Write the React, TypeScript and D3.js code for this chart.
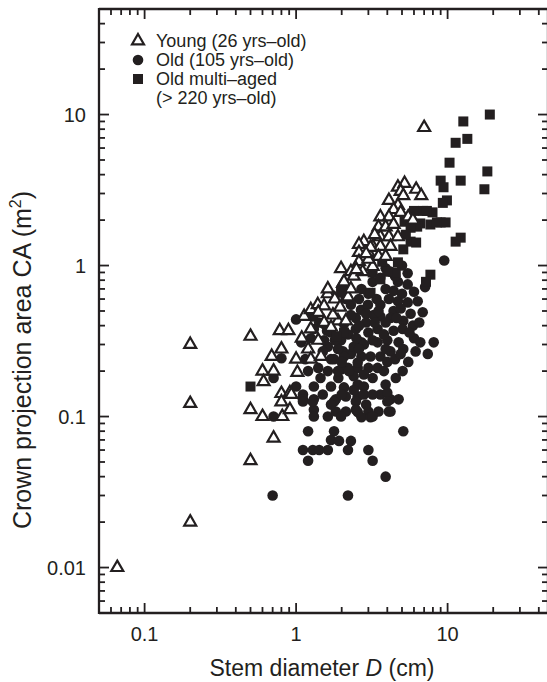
import React from "react";
import * as d3 from "d3";

const young: [number, number][] = [
  [0.066, 0.01], [0.2, 0.3], [0.2, 0.122], [0.2, 0.02], [0.5, 0.34], [0.5, 0.111], [0.5, 0.051],
  [0.78, 0.37], [0.89, 0.37], [0.8, 0.28], [0.69, 0.25], [0.6, 0.2], [0.71, 0.2], [0.61, 0.17],
  [1.02, 0.196], [0.8, 0.142], [0.91, 0.144], [0.6, 0.1], [0.81, 0.1], [0.91, 0.111], [1.0, 0.24],
  [1.09, 0.33], [1.13, 0.46], [1.25, 0.51], [1.39, 0.55], [0.71, 0.072], [1.62, 0.65], [2.04, 0.76],
  [1.53, 0.54], [1.89, 0.43], [2.13, 0.43], [1.25, 0.38], [1.2, 0.28], [1.4, 0.32], [1.25, 0.24],
  [1.46, 0.25], [1.53, 0.42], [1.7, 0.39], [0.93, 0.14], [0.8, 0.125],
  [4.7, 3.3], [5.2, 3.5], [4.9, 3.1], [5.1, 2.9], [6.2, 3.2], [6.7, 2.9], [4.1, 2.7], [4.7, 2.5],
  [4.4, 2.35], [4.9, 2.25], [3.6, 2.1], [4.1, 2.1], [5.5, 2.1], [3.5, 1.8], [3.9, 1.8], [4.4, 1.87],
  [3.6, 1.55], [4.1, 1.55], [4.7, 1.55], [2.8, 1.44], [2.6, 1.38], [3.2, 1.34], [3.6, 1.34],
  [4.2, 1.34], [2.6, 1.22], [3.0, 1.22], [3.5, 1.15], [1.98, 0.955], [2.6, 1.06], [2.3, 0.91],
  [2.07, 0.78], [2.4, 0.85], [2.75, 0.91], [3.2, 0.985], [3.9, 1.15], [1.62, 0.7], [3.1, 1.32],
  [3.0, 1.1], [2.5, 0.94], [7.0, 8.2], [5.9, 2.0], [3.3, 1.6], [2.9, 1.2],
  [1.4, 0.49], [1.8, 0.6], [1.75, 0.47], [2.2, 0.62], [2.3, 0.7], [1.95, 0.53],
];

const old: [number, number][] = [
  [9.5, 1.08], [5.45, 0.89], [4.2, 0.91], [4.7, 0.78], [3.6, 0.83], [3.2, 0.78], [6.0, 0.67],
  [7.1, 0.72], [5.45, 0.75], [4.7, 0.58], [5.45, 0.57], [6.35, 0.58], [6.85, 0.49], [4.4, 0.5],
  [5.1, 0.43], [5.05, 0.38], [4.2, 0.45], [3.6, 0.46], [3.25, 0.47], [2.9, 0.42], [3.0, 0.36],
  [3.45, 0.38], [2.7, 0.31], [3.45, 0.31], [4.0, 0.32], [4.75, 0.31], [6.0, 0.33], [6.6, 0.31],
  [8.1, 0.31], [6.15, 0.27], [7.4, 0.26], [5.1, 0.28], [4.2, 0.27], [3.6, 0.25], [3.1, 0.25],
  [2.7, 0.25], [2.3, 0.26], [2.04, 0.27], [2.2, 0.21], [2.55, 0.21], [3.0, 0.21], [3.45, 0.21],
  [4.0, 0.23], [1.98, 0.205], [1.7, 0.24], [1.9, 0.18], [2.4, 0.185], [2.8, 0.19], [4.55, 0.18],
  [5.05, 0.2], [2.55, 0.163], [2.8, 0.158], [3.9, 0.163], [1.31, 0.158], [1.7, 0.158], [1.0, 0.158],
  [1.11, 0.14], [1.11, 0.13], [1.31, 0.13], [1.83, 0.13], [2.13, 0.136], [2.55, 0.136], [2.8, 0.14],
  [3.6, 0.14], [4.2, 0.13], [4.75, 0.13], [4.0, 0.144], [1.31, 0.111], [1.31, 0.1], [1.62, 0.1],
  [1.83, 0.108], [2.13, 0.108], [2.55, 0.107], [3.0, 0.108], [3.5, 0.108], [4.1, 0.108], [2.7, 0.099],
  [3.1, 0.099], [1.98, 0.1], [1.2, 0.08], [1.78, 0.08], [5.1, 0.08], [1.7, 0.07], [1.92, 0.069],
  [2.3, 0.069], [1.11, 0.06], [1.29, 0.06], [1.42, 0.06], [1.62, 0.06], [2.2, 0.06], [3.0, 0.06],
  [1.2, 0.051], [3.2, 0.051], [3.9, 0.04], [2.2, 0.03], [0.7, 0.03], [1.11, 0.126], [1.29, 0.126],
  [1.78, 0.126], [2.48, 0.126], [4.0, 0.126], [2.48, 0.111], [4.2, 0.108], [3.2, 0.1],
  [1.0, 0.44], [0.71, 0.18], [0.8, 0.243], [0.71, 0.1], [1.29, 0.46], [1.42, 0.42], [1.31, 0.38],
  [1.62, 0.29], [1.78, 0.24], [2.07, 0.25], [1.4, 0.21], [1.62, 0.2], [1.89, 0.2], [2.23, 0.2],
  [2.07, 0.156], [2.55, 0.228], [2.4, 0.29], [1.98, 0.32], [1.7, 0.36], [1.31, 0.47], [1.53, 0.41],
  [1.53, 0.32], [1.25, 0.33], [1.08, 0.31], [1.5, 0.27], [1.89, 0.28],
  [2.68, 0.51], [2.98, 0.55], [2.48, 0.45], [2.13, 0.6], [2.3, 0.47], [2.07, 0.41], [2.48, 0.38],
  [2.6, 0.6],
  [2.2, 0.35], [2.5, 0.33], [2.8, 0.3], [3.2, 0.32], [3.8, 0.35], [4.4, 0.37], [3.3, 0.42],
  [3.9, 0.42], [4.6, 0.45], [2.6, 0.4], [3.6, 0.55], [4.1, 0.6], [3.9, 0.7], [4.4, 0.68], [5.0, 0.65],
  [3.4, 0.6], [3.0, 0.65], [2.7, 0.7], [4.9, 0.52], [5.7, 0.48], [5.9, 0.4], [3.9, 0.28], [4.5, 0.24],
  [5.5, 0.23], [3.2, 0.18], [3.8, 0.2], [2.4, 0.15], [3.2, 0.14], [1.5, 0.14], [1.7, 0.12], [2.0, 0.14],
  [2.9, 0.12], [1.45, 0.18], [1.2, 0.2], [1.15, 0.24], [2.0, 0.23], [2.6, 0.28], [1.8, 0.32],
  [1.6, 0.37], [2.3, 0.55], [2.9, 0.48], [3.5, 0.5], [4.5, 0.85], [5.0, 1.0], [3.9, 0.96], [6.5, 0.42],
  [5.6, 0.36], [4.9, 0.26],
];

const multiAged: [number, number][] = [
  [19, 10], [12.7, 9.0], [13.5, 6.9], [11.3, 6.5], [10.3, 4.8], [9.0, 3.65], [9.4, 3.3], [12.2, 3.65],
  [18.3, 4.2], [17.5, 3.2], [9.9, 2.7], [9.3, 2.6], [6.9, 2.3], [7.95, 2.25], [6.6, 1.9], [7.7, 1.87],
  [9.0, 1.93], [9.7, 1.93], [6.3, 1.81], [5.7, 1.44], [6.2, 1.42], [12.2, 1.53], [11.3, 1.44],
  [5.1, 1.28], [4.7, 1.05], [7.7, 0.87], [7.2, 0.78], [3.2, 0.9], [3.7, 1.06], [0.5, 0.158],
  [4.55, 0.9], [4.0, 0.91], [3.6, 0.81], [3.1, 0.66], [1.98, 0.66], [2.07, 0.36], [1.86, 0.34],
  [5.2, 1.95], [5.7, 1.78], [6.0, 2.3], [7.3, 2.3], [8.5, 1.93], [5.3, 1.6],
];

const xTickLabels = [0.1, 1, 10];
const yTickLabels = [0.01, 0.1, 1, 10];
const legendItems = ["Young (26 yrs–old)", "Old (105 yrs–old)", "Old multi–aged", "(> 220 yrs–old)"];

const W = 547;
const H = 682;
const INK = "#231f20";
const FONT = "'Liberation Sans', Arial, Helvetica, sans-serif";

function logTicks(lo: number, hi: number) {
  const out: { v: number; major: boolean }[] = [];
  for (let e = Math.floor(Math.log10(lo)); e <= Math.ceil(Math.log10(hi)); e++) {
    for (let k = 1; k <= 9; k++) {
      const v = k * Math.pow(10, e);
      if (v >= lo * 0.999 && v <= hi * 1.001) out.push({ v, major: k === 1 });
    }
  }
  return out;
}

function tri(cx: number, cy: number, s: number) {
  const h = s * 0.866;
  return `M${cx},${cy - (2 * h) / 3}L${cx + s / 2},${cy + h / 3}L${cx - s / 2},${cy + h / 3}Z`;
}

export default function App() {
  const x = d3.scaleLog().domain([0.05, 46]).range([99, 548]);
  const y = d3.scaleLog().domain([0.005, 50]).range([613, 9]);
  const xt = logTicks(0.05, 46);
  const yt = logTicks(0.005, 50);
  const L = 99, R = 548, T = 9, B = 613;

  return (
    <svg width={W} height={H} style={{ position: "absolute", left: 0, top: 0, background: "#fff" }}>
      <rect x={0} y={0} width={W} height={H} fill="#fff" />
      <g stroke={INK} strokeWidth={2.3} fill="none">
        <line x1={L} y1={T} x2={R} y2={T} />
        <line x1={L} y1={B} x2={R} y2={B} />
        <line x1={L} y1={T - 1} x2={L} y2={B + 1} />
        <line x1={R} y1={T} x2={R} y2={B} />
      </g>
      <g stroke={INK} strokeWidth={1.8}>
        {xt.map((t, i) => {
          const px = x(t.v);
          const len = t.major ? 10 : 6;
          return (
            <g key={"x" + i}>
              <line x1={px} y1={B} x2={px} y2={B - len} />
              <line x1={px} y1={T} x2={px} y2={T + len} />
            </g>
          );
        })}
        {yt.map((t, i) => {
          const py = y(t.v);
          const len = t.major ? 10 : 6;
          return (
            <g key={"y" + i}>
              <line x1={L} y1={py} x2={L + len} y2={py} />
              <line x1={R} y1={py} x2={R - len} y2={py} />
            </g>
          );
        })}
      </g>
      <g fill={INK} fontFamily={FONT} fontSize={20}>
        {xTickLabels.map((v) => (
          <text key={"xl" + v} x={x(v)} y={641} textAnchor="middle">
            {String(v)}
          </text>
        ))}
        {yTickLabels.map((v) => (
          <text key={"yl" + v} x={86} y={y(v) + 7} textAnchor="end">
            {String(v)}
          </text>
        ))}
      </g>
      <text x={322} y={676} textAnchor="middle" fontFamily={FONT} fontSize={23} fill={INK}>
        Stem diameter <tspan fontStyle="italic">D</tspan> (cm)
      </text>
      <text
        transform={`translate(31,360) rotate(-90)`}
        textAnchor="middle"
        fontFamily={FONT}
        fontSize={25}
        fill={INK}
      >
        Crown projection area CA (m
        <tspan fontSize={16} dy={-10}>2</tspan>
        <tspan dy={10}>)</tspan>
      </text>
      <g fill={INK}>
        {old.map((d, i) => (
          <circle key={"o" + i} cx={x(d[0])} cy={y(d[1])} r={5.3} />
        ))}
      </g>
      <g fill={INK}>
        {multiAged.map((d, i) => (
          <rect key={"m" + i} x={x(d[0]) - 5} y={y(d[1]) - 5} width={10} height={10} />
        ))}
      </g>
      <g fill="#fff" stroke={INK} strokeWidth={2.2} strokeLinejoin="miter">
        {young.map((d, i) => (
          <path key={"y" + i} d={tri(x(d[0]), y(d[1]), 12)} />
        ))}
      </g>
      <g fontFamily={FONT} fontSize={18} fill={INK}>
        <path d={tri(138, 41, 12)} fill="#fff" stroke={INK} strokeWidth={2.2} />
        <text x={156} y={47}>{legendItems[0]}</text>
        <circle cx={138} cy={60} r={5.3} fill={INK} />
        <text x={156} y={66}>{legendItems[1]}</text>
        <rect x={133} y={74} width={10} height={10} fill={INK} />
        <text x={156} y={85}>{legendItems[2]}</text>
        <text x={156} y={104}>{legendItems[3]}</text>
      </g>
    </svg>
  );
}
